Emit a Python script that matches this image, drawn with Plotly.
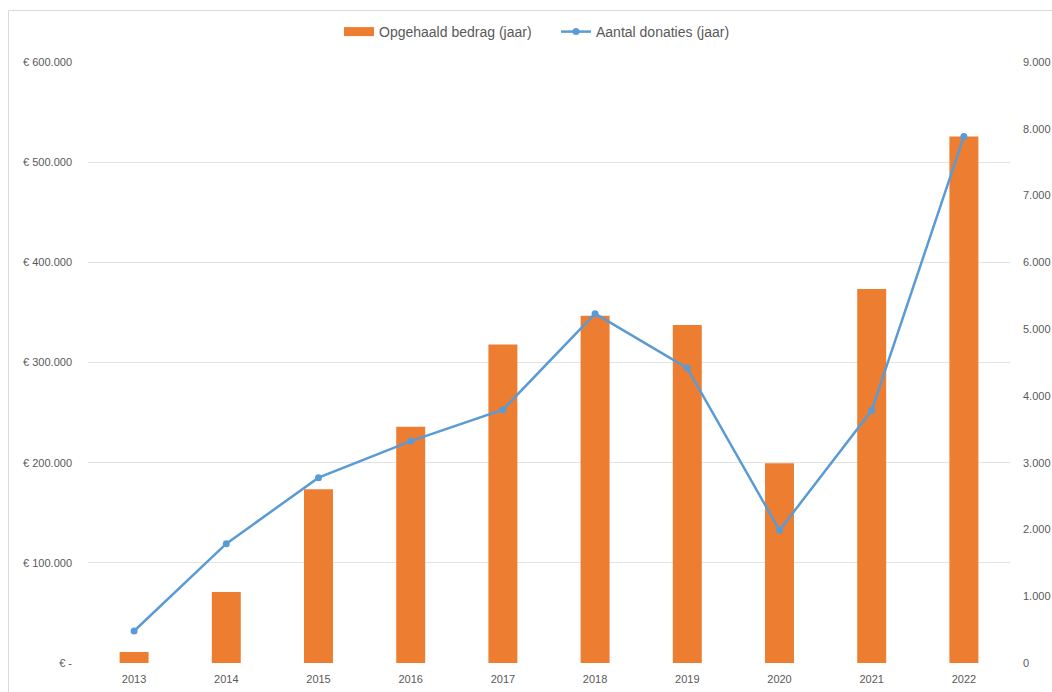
import plotly.graph_objects as go

years = ["2013", "2014", "2015", "2016", "2017", "2018", "2019", "2020", "2021", "2022"]
amount = [11000, 70900, 173500, 235800, 318000, 346700, 337400, 199500, 373300, 525500]
donations = [479, 1787, 2775, 3323, 3793, 5231, 4416, 1987, 3783, 7885]

left_vals = [0, 100000, 200000, 300000, 400000, 500000, 600000]
left_text = ["€ -", "€ 100.000", "€ 200.000", "€ 300.000", "€ 400.000", "€ 500.000", "€ 600.000"]
right_vals = [0, 1000, 2000, 3000, 4000, 5000, 6000, 7000, 8000, 9000]
right_text = ["0", "1.000", "2.000", "3.000", "4.000", "5.000", "6.000", "7.000", "8.000", "9.000"]

FONT = "Liberation Sans"
GRAY = "#595959"
ORANGE = "#ED7D31"
BLUE = "#5B9BD5"

FW, FH = 1052, 692
L, R, T, B = 88, 1010, 62, 663
W, H = R - L, B - T
def px(x): return (x - L) / W
def py(y): return (B - y) / H

fig = go.Figure()
fig.add_trace(go.Bar(x=years, y=amount, name="Opgehaald bedrag (jaar)", showlegend=False,
                     marker=dict(color=ORANGE, line=dict(width=0)), yaxis="y"))
# legend-only entry giving the wide rectangular swatch of the bar series
fig.add_trace(go.Scatter(x=[None], y=[None], name="Opgehaald bedrag (jaar)" + "\u00a0" * 5, mode="lines",
                         line=dict(color=ORANGE, width=9), yaxis="y", hoverinfo="skip"))
fig.add_trace(go.Scatter(x=years, y=donations, name="Aantal donaties (jaar)", mode="lines+markers",
                         line=dict(color=BLUE, width=2.5), marker=dict(size=7, color=BLUE),
                         yaxis="y2"))

# frame border (left and top edges visible)
fig.add_shape(type="path", xref="paper", yref="paper",
              path=f"M {px(8.5)} {py(700)} L {px(8.5)} {py(10.5)} L {px(1060)} {py(10.5)}",
              line=dict(color="#d9d9d9", width=1))

fig.update_layout(
    width=FW, height=FH,
    margin=dict(l=L, r=FW - R, t=T, b=FH - B, autoexpand=False),
    paper_bgcolor="white", plot_bgcolor="white",
    font=dict(family=FONT, color=GRAY, size=11),
    bargap=0.686,
    showlegend=True,
    legend=dict(orientation="h", x=px(537), xanchor="center", y=py(32), yanchor="middle",
                font=dict(size=14, color=GRAY), bgcolor="rgba(0,0,0,0)"),
    xaxis=dict(type="category", range=[-0.5, 9.5], showgrid=False, showline=False, zeroline=False,
               automargin=False, ticks="", ticklabelstandoff=8, tickfont=dict(size=11, color=GRAY)),
    yaxis=dict(range=[0, 600000], tickvals=left_vals, ticktext=left_text, automargin=False,
               showgrid=True, gridcolor="#e3e3e3", gridwidth=1, zeroline=False, showline=False,
               ticks="", ticklabelstandoff=15, tickfont=dict(size=11, color=GRAY)),
    yaxis2=dict(range=[0, 9000], tickvals=right_vals, ticktext=right_text, overlaying="y", side="right",
                automargin=False,
                showgrid=False, zeroline=False, showline=False, ticks="", ticklabelstandoff=12,
                tickfont=dict(size=11, color=GRAY)),
)

fig.write_html("out.html", config={"displayModeBar": False},
               post_script="document.body.style.margin='0';document.body.style.overflow='hidden';")
